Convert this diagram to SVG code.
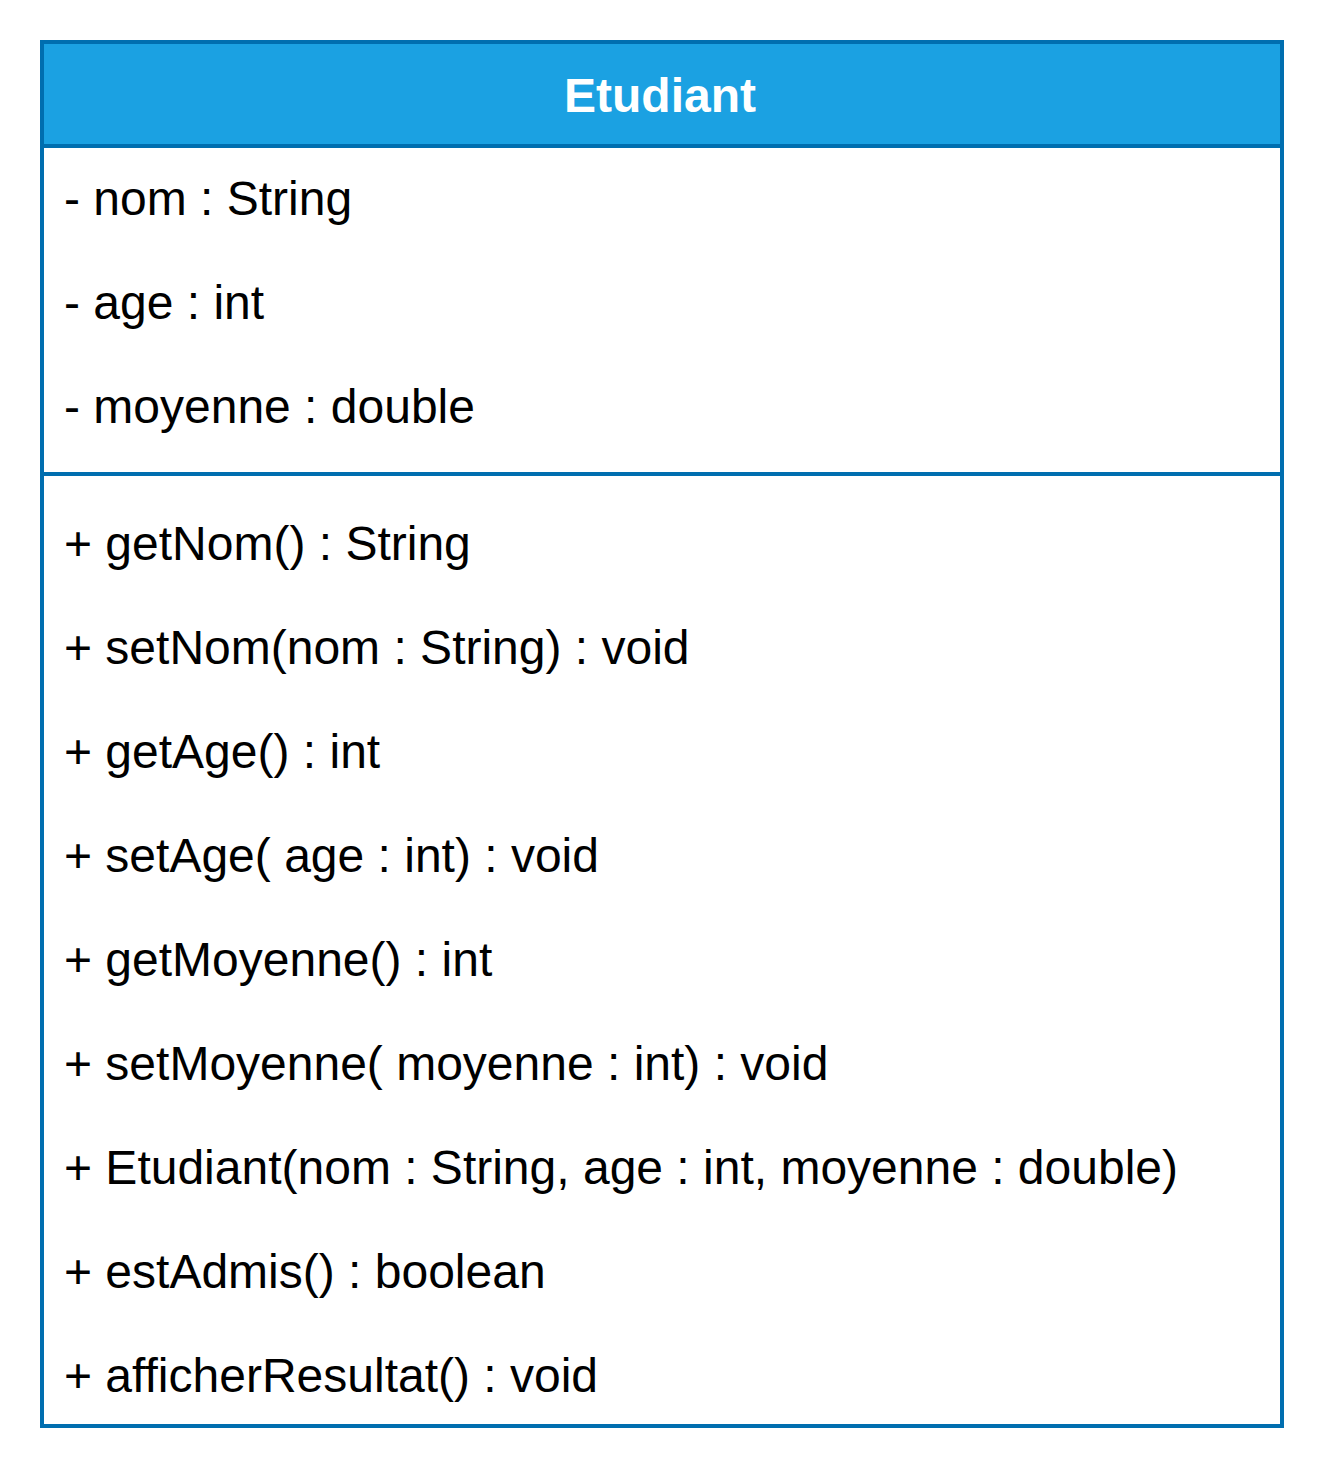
<svg xmlns="http://www.w3.org/2000/svg" width="1324" height="1480" viewBox="0 0 1324 1480">
<style>
.t{font-family:"Liberation Sans",Arial,sans-serif;font-size:48px;fill:#000}
.h{font-family:"Liberation Sans",Arial,sans-serif;font-size:48px;font-weight:bold;fill:#fff}
.ln{stroke:#006eaf;stroke-width:4;fill:none}
</style>
<rect width="1324" height="1480" fill="#fff"/>
<g id="Etudiant">
<rect x="42" y="42" width="1240" height="104" fill="#1ba1e2"/>
<rect x="42" y="42" width="1240" height="1384" class="ln"/>
<line x1="42" y1="146" x2="1282" y2="146" class="ln"/>
<line x1="42" y1="474" x2="1282" y2="474" class="ln"/>
<text x="660" y="112" text-anchor="middle" class="h">Etudiant</text>
<text x="64" y="215" class="t">- nom : String</text>
<text x="64" y="319" class="t">- age : int</text>
<text x="64" y="423" class="t">- moyenne : double</text>
<text x="64" y="560" class="t">+ getNom() : String</text>
<text x="64" y="664" class="t">+ setNom(nom : String) : void</text>
<text x="64" y="768" class="t">+ getAge() : int</text>
<text x="64" y="872" class="t">+ setAge( age : int) : void</text>
<text x="64" y="976" class="t">+ getMoyenne() : int</text>
<text x="64" y="1080" class="t">+ setMoyenne( moyenne : int) : void</text>
<text x="64" y="1184" class="t">+ Etudiant(nom : String, age : int, moyenne : double)</text>
<text x="64" y="1288" class="t">+ estAdmis() : boolean</text>
<text x="64" y="1392" class="t">+ afficherResultat() : void</text>
</g>
<g id="connectors"/>
</svg>
